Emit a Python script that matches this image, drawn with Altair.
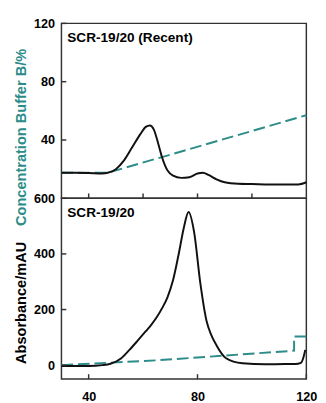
import altair as alt
import pandas as pd

# ---- data ----
top_x   = [30, 35, 40, 45, 47, 50, 53, 56, 59, 61, 62.5, 64, 65.5, 67, 69, 71, 74, 77, 80, 82, 84, 87, 90, 95, 100, 110, 117, 120]
top_abs = [17.5, 17.5, 17.3, 17, 17.5, 20, 26, 35, 44, 49, 50, 47, 38, 28, 19, 15.5, 14, 14.5, 17, 17.5, 16, 13, 11, 10, 9.8, 9.5, 9.5, 11]
top_buf_x = [30, 47, 120]
top_buf   = [17.5, 17.5, 57]

bot_x   = [30, 40, 45, 48, 52, 55, 58, 61, 63, 65, 67, 69, 71, 73, 75, 76.7, 78.8, 81, 83.4, 85, 87, 90.5, 96.5, 105, 112, 116, 118, 119, 119.6]
bot_abs = [-3, -3, 0, 5, 25, 55, 88, 122, 145, 172, 205, 245, 305, 395, 495, 551, 476, 298, 156, 110, 71, 25, 7, 3, 4, 4, 8, 30, 55]
bot_buf_x = [30, 66, 115.5, 115.5, 120]
bot_buf   = [0, 18, 52, 103, 103]

top_yticks = [40, 80, 120]
top_xticks = [40, 60, 80, 100]
bot_yticks = [0, 200, 400, 600]
bot_xticks = [40, 80, 120]

panel_labels = ["SCR-19/20 (Recent)", "SCR-19/20"]
y_titles = ["Concentration Buffer B/%", "Absorbance/mAU"]

TEAL = "#2b8c89"
FONT = "Liberation Sans"
W = 252
H_TOP = 180
H_BOT = 186

xs = alt.Scale(domain=[30, 120], nice=False, zero=False)


def y_axis(values, title, color, ty):
    return alt.Axis(values=values, ticks=False, tickSize=0, domain=False, grid=False,
                    labelFont=FONT, labelFontSize=13, labelFontWeight="bold",
                    labelColor="black", labelPadding=7,
                    title=title, titleFont=FONT, titleFontSize=15, titleFontWeight="bold",
                    titleColor=color, titleAngle=270, titleAlign="left",
                    titleBaseline="middle", titleX=-41.5, titleY=ty)


def panel(xv, absv, bxv, bufv, ydom, yticks, xticks, h, label, title, tcolor, ty, xaxis):
    ys = alt.Scale(domain=ydom, nice=False, zero=False)
    yax = y_axis(yticks, title, tcolor, ty)
    xenc = lambda f: alt.X(f, scale=xs, axis=xaxis)
    yenc = lambda f: alt.Y(f, scale=ys, axis=yax)

    d_abs = pd.DataFrame({"x": xv, "v": absv})
    d_buf = pd.DataFrame({"x": bxv, "v": bufv, "i": list(range(len(bxv)))})
    d_yt = pd.DataFrame({"x": [30] * len(yticks), "v": yticks})
    d_xt = pd.DataFrame({"x": xticks, "v": [ydom[0]] * len(xticks)})
    d_lab = pd.DataFrame({"label": [label]})

    buf = alt.Chart(d_buf).mark_line(color=TEAL, strokeWidth=2, strokeDash=[12, 5]).encode(
        x=xenc("x:Q"), y=yenc("v:Q"), order="i:Q")
    ab = alt.Chart(d_abs).mark_line(color="#111111", strokeWidth=2, interpolate="monotone").encode(
        x=xenc("x:Q"), y=yenc("v:Q"))
    yt = alt.Chart(d_yt).mark_rule(color="#333333", strokeWidth=1.5).encode(
        y=yenc("v:Q"), x=alt.value(0), x2=alt.value(5))
    xt = alt.Chart(d_xt).mark_rule(color="#333333", strokeWidth=1.5).encode(
        x=xenc("x:Q"), y=alt.value(h), y2=alt.value(h - 5))
    lab = alt.Chart(d_lab).mark_text(align="left", baseline="middle", font=FONT, fontSize=14,
                                     fontWeight="bold", color="black").encode(
        text="label:N", x=alt.value(6), y=alt.value(15))
    return alt.layer(buf, ab, yt, xt, lab).properties(width=W, height=h)


top = panel(top_x, top_abs, top_buf_x, top_buf, [0, 120], top_yticks, top_xticks, H_TOP,
            panel_labels[0], y_titles[0], TEAL, 208, None)

bot_xaxis = alt.Axis(values=bot_xticks, ticks=False, tickSize=0, domain=False, grid=False,
                     labelFlush=False, labelFont=FONT, labelFontSize=13, labelFontWeight="bold",
                     labelColor="black", labelPadding=12, title=None)
bot = panel(bot_x, bot_abs, bot_buf_x, bot_buf, [-50, 600], bot_yticks, bot_xticks, H_BOT,
            panel_labels[1], y_titles[1], "black", 170, bot_xaxis)

chart = alt.vconcat(top, bot, spacing=0, bounds="flush").properties(
    padding={"left": 5, "top": 3, "right": 0, "bottom": 0}
).configure_view(stroke="#333333", strokeWidth=1.5)

chart.save("out.html", embed_options={"renderer": "svg", "actions": False})
